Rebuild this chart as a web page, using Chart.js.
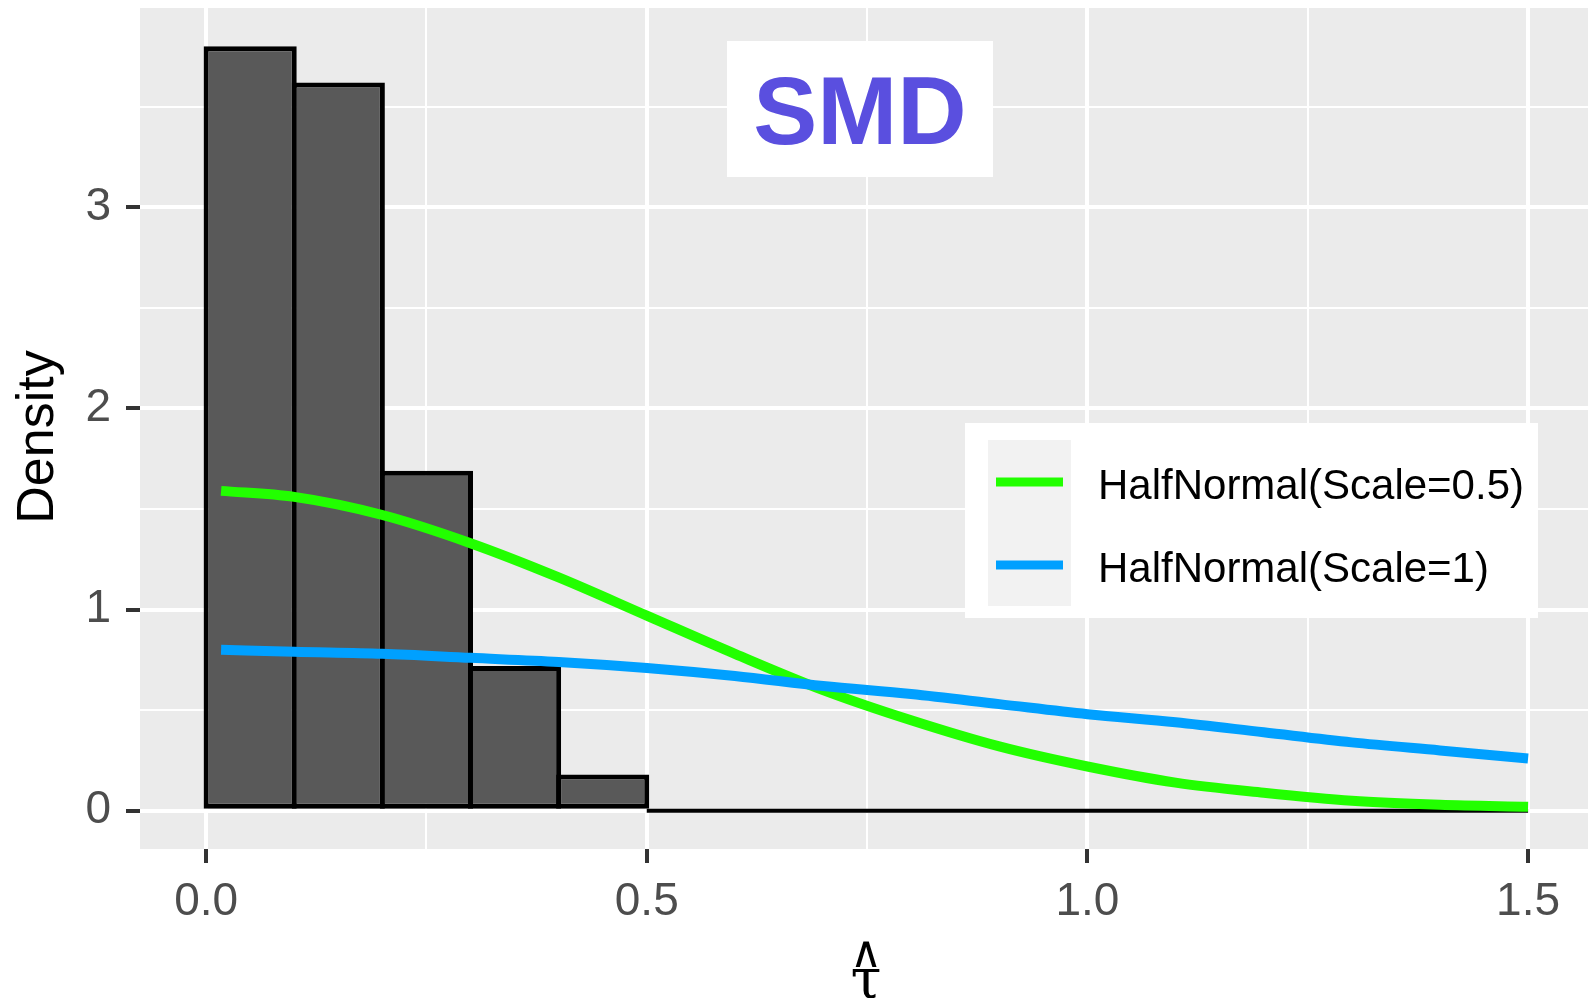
<!DOCTYPE html>
<html>
<head>
<meta charset="utf-8">
<script src="https://cdn.jsdelivr.net/npm/chart.js@4.4.1/dist/chart.umd.min.js"></script>
<style>
  html, body { margin: 0; padding: 0; background: #ffffff; }
  #wrap { width: 1588px; height: 998px; }
</style>
</head>
<body>
<div id="wrap"><canvas id="grafica" width="1588" height="998"></canvas></div>
<script>
// histogram: bin starts (width 0.1) and density of each bin
const binStart = [0.0, 0.1, 0.2, 0.3, 0.4, 0.5, 0.6, 0.7, 0.8, 0.9, 1.0, 1.1, 1.2, 1.3, 1.4];
const binDensity = [3.80, 3.62, 1.69, 0.72, 0.18, 0, 0, 0, 0, 0, 0, 0, 0, 0, 0];
const binWidth = 0.1;

// density curves
const curveX = [0.017, 0.1, 0.2, 0.3, 0.4, 0.5, 0.6, 0.7, 0.8, 0.9, 1.0, 1.1, 1.2, 1.3, 1.4, 1.5];
const halfNormal05 = [1.59, 1.56, 1.47, 1.33, 1.16, 0.97, 0.78, 0.60, 0.45, 0.32, 0.22, 0.14, 0.09, 0.05, 0.03, 0.02];
const halfNormal1 = [0.80, 0.79, 0.78, 0.76, 0.74, 0.71, 0.67, 0.62, 0.58, 0.53, 0.48, 0.44, 0.39, 0.34, 0.30, 0.26];

const serieNames = ["HalfNormal(Scale=0.5)", "HalfNormal(Scale=1)"];
const serieColors = ["#22ff00", "#00a0ff"];

const xTicks = [0, 0.25, 0.5, 0.75, 1.0, 1.25, 1.5];
const yTicks = [0, 0.5, 1, 1.5, 2, 2.5, 3, 3.5];
const titulo = "SMD";

const font = "'Liberation Sans', Arial, sans-serif";

function esMayor(c, paso) {
  if (!c || !c.tick) return false;
  const r = c.tick.value / paso;
  return Math.abs(r - Math.round(r)) < 1e-6;
}

function esMayorV(v, paso) {
  const r = v / paso;
  return Math.abs(r - Math.round(r)) < 1e-6;
}

const barras = [];
const ceros = [];
binStart.forEach((s, i) => {
  if (binDensity[i] > 0) barras.push({ x: s + binWidth / 2, y: binDensity[i] });
  else ceros.push(s);
});
const lineaBase = ceros.length ? [{ x: ceros[0], y: 0 }, { x: binStart[binStart.length - 1] + binWidth, y: 0 }] : [];

const fondo = {
  id: "fondo",
  beforeDraw(chart) {
    const { ctx, chartArea: a } = chart;
    ctx.save();
    ctx.fillStyle = "#ebebeb";
    ctx.fillRect(a.left, a.top, a.right - a.left, a.bottom - a.top);
    ctx.restore();
  },
  afterDraw(chart) {
    const { ctx } = chart;
    ctx.save();
    // title box
    ctx.fillStyle = "#ffffff";
    ctx.fillRect(727, 41, 266, 136);
    ctx.fillStyle = "#5a4fdf";
    ctx.font = "bold 96px " + font;
    ctx.textAlign = "center";
    ctx.textBaseline = "alphabetic";
    ctx.fillText(titulo, 860, 144);

    // legend
    ctx.fillStyle = "#ffffff";
    ctx.fillRect(965, 423, 573, 195);
    ctx.fillStyle = "#f2f2f2";
    ctx.fillRect(988, 440, 83, 166);
    const filas = [482, 565];
    serieNames.forEach((n, i) => {
      ctx.strokeStyle = serieColors[i];
      ctx.lineWidth = 9;
      ctx.beginPath();
      ctx.moveTo(996, filas[i]);
      ctx.lineTo(1063, filas[i]);
      ctx.stroke();
      ctx.fillStyle = "#000000";
      ctx.font = "42px " + font;
      ctx.textAlign = "left";
      ctx.fillText(n, 1098, filas[i] + 17);
    });

    // axis titles
    ctx.fillStyle = "#000000";
    ctx.font = "52px " + font;
    ctx.textAlign = "center";
    ctx.save();
    ctx.translate(53, 437);
    ctx.rotate(-Math.PI / 2);
    ctx.fillText("Density", 0, 0);
    ctx.restore();
    ctx.font = "44px 'DejaVu Sans'";
    ctx.fillText("\u2227", 866, 967);
    ctx.font = "56px 'DejaVu Serif'";
    ctx.fillText("\u03c4", 866, 998);
    ctx.restore();
  }
};

const chart = new Chart(document.getElementById("grafica"), {
  type: "bar",
  data: {
    datasets: [
      {
        type: "line",
        label: serieNames[1],
        data: curveX.map((x, i) => ({ x: x, y: halfNormal1[i] })),
        borderColor: serieColors[1],
        borderWidth: 10,
        pointRadius: 0,
        cubicInterpolationMode: "monotone",
        fill: false,
        order: 0
      },
      {
        type: "line",
        label: serieNames[0],
        data: curveX.map((x, i) => ({ x: x, y: halfNormal05[i] })),
        borderColor: serieColors[0],
        borderWidth: 10,
        pointRadius: 0,
        cubicInterpolationMode: "monotone",
        fill: false,
        order: 1
      },
      {
        type: "line",
        label: "base",
        data: lineaBase,
        borderColor: "#000000",
        borderWidth: 4,
        pointRadius: 0,
        fill: false,
        order: 2
      },
      {
        type: "bar",
        label: "hist",
        data: barras,
        backgroundColor: "#595959",
        borderColor: "#000000",
        borderWidth: 5,
        borderSkipped: false,
        barPercentage: 1.057,
        categoryPercentage: 1,
        order: 3
      }
    ]
  },
  options: {
    responsive: false,
    animation: false,
    devicePixelRatio: 1,
    layout: { padding: { left: 0, right: 0, top: 8, bottom: 0 } },
    plugins: { legend: { display: false }, tooltip: { enabled: false } },
    scales: {
      x: {
        type: "linear",
        offset: false,
        min: -0.075,
        max: 1.568,
        afterBuildTicks: (s) => { s.ticks = xTicks.map(v => ({ value: v })); },
        afterFit: (s) => { s.height = 149; s.paddingLeft = 0; s.paddingRight = 0; },
        border: { display: false },
        grid: {
          offset: false,
          color: "#ffffff",
          lineWidth: (c) => esMayor(c, 0.5) ? 4 : 2,
          drawTicks: true,
          tickLength: 14,
          tickWidth: 4,
          tickColor: (c) => esMayor(c, 0.5) ? "#333333" : "rgba(0,0,0,0)"
        },
        ticks: {
          autoSkip: false,
          maxRotation: 0,
          padding: 12,
          color: "#4d4d4d",
          font: { family: font, size: 46 },
          callback: (v) => esMayorV(v, 0.5) ? v.toFixed(1) : ""
        }
      },
      y: {
        type: "linear",
        min: -0.19,
        max: 3.99,
        afterBuildTicks: (s) => { s.ticks = yTicks.map(v => ({ value: v })); },
        afterFit: (s) => { s.width = 140; s.paddingTop = 0; s.paddingBottom = 0; },
        border: { display: false },
        grid: {
          color: "#ffffff",
          lineWidth: (c) => esMayor(c, 1) ? 4 : 2,
          drawTicks: true,
          tickLength: 14,
          tickWidth: 4,
          tickColor: (c) => esMayor(c, 1) ? "#333333" : "rgba(0,0,0,0)"
        },
        ticks: {
          autoSkip: false,
          padding: 15,
          color: "#4d4d4d",
          font: { family: font, size: 46 },
          callback: (v) => esMayorV(v, 1) ? String(v) : ""
        }
      }
    }
  },
  plugins: [fondo]
});
</script>
</body>
</html>
